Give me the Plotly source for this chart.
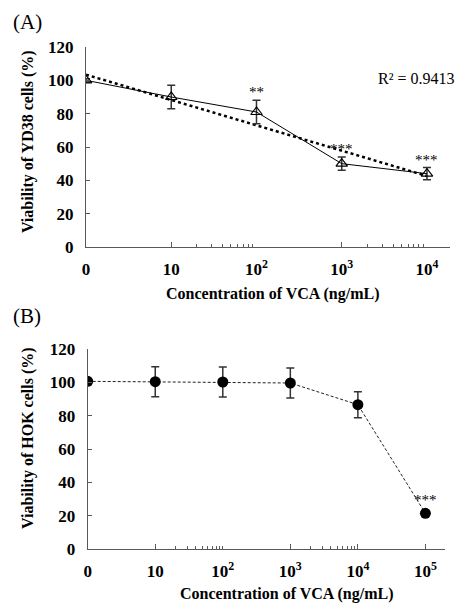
import numpy as np
import plotly.graph_objects as go

# ---------------- data ----------------
# Panel A (YD38 cells); "0" concentration is drawn at the 10^0 position
A_CONC_POS = [1, 10, 100, 1000, 10000]
A_VIAB = [100, 90, 81, 50, 44]
A_ERR = [1, 7, 7, 4, 3.7]
A_SIG = ["", "", "**", "***", "***"]
A_TICK_POS = [1, 10, 100, 1000, 10000]
A_TICK_TEXT = ["0", "10", "10<sup>2</sup>", "10<sup>3</sup>", "10<sup>4</sup>"]
A_MAJOR_TICKS = [10, 1000, 18600]
A_MINOR_TICKS = [20, 30, 40, 50, 60, 70, 80, 90,
                 2000, 3000, 4000, 5000, 6000, 7000, 8000, 9000]
A_R2_TEXT = "R² = 0.9413"

# Panel B (HOK cells)
B_CONC_POS = [1, 10, 100, 1000, 10000, 100000]
B_VIAB = [100.6, 100.4, 100.2, 99.6, 86.6, 21.4]
B_ERR = [1.5, 9, 9, 9, 7.8, 1.5]
B_SIG = ["", "", "", "", "", "***"]
B_TICK_POS = [1, 10, 100, 1000, 10000, 100000]
B_TICK_TEXT = ["0", "10", "10<sup>2</sup>", "10<sup>3</sup>", "10<sup>4</sup>", "10<sup>5</sup>"]
B_MAJOR_TICKS = [10, 1000, 10000, 100000, 195000]
B_MINOR_TICKS = [20, 30, 40, 50, 60, 70, 80, 90, 100,
                 2000, 3000, 4000, 5000, 6000, 7000, 8000, 9000]

Y_TICKS = [0, 20, 40, 60, 80, 100, 120]

A_YTITLE = "Viability of YD38 cells (%)"
B_YTITLE = "Viability of HOK cells (%)"
XTITLE = "Concentration of VCA (ng/mL)"

# ---------------- style ----------------
FONT = "Liberation Serif"
AXC = "#595959"
W, H = 456, 605

fig = go.Figure()

# Panel A: logarithmic trend line fitted from the data
lx = np.log10(np.array(A_CONC_POS, dtype=float))
slope, intercept = np.polyfit(lx, np.array(A_VIAB, dtype=float), 1)
fig.add_trace(go.Scatter(
    x=A_CONC_POS, y=list(intercept + slope * lx), mode="lines",
    line=dict(color="black", width=2.5, dash="dot"),
    xaxis="x", yaxis="y", showlegend=False, hoverinfo="skip"))

fig.add_trace(go.Scatter(
    x=A_CONC_POS, y=A_VIAB, mode="lines+markers",
    line=dict(color="black", width=1),
    marker=dict(symbol="triangle-up-open", size=10, color="black",
                line=dict(color="black", width=1.2)),
    error_y=dict(type="data", array=A_ERR, visible=True,
                 color="#333333", thickness=1.5, width=4),
    xaxis="x", yaxis="y", showlegend=False))

# Panel B
fig.add_trace(go.Scatter(
    x=B_CONC_POS, y=B_VIAB, mode="lines+markers",
    line=dict(color="#222222", width=1, dash="3px,2px"),
    marker=dict(symbol="circle", size=11, color="black"),
    error_y=dict(type="data", array=B_ERR, visible=True,
                 color="#333333", thickness=1.5, width=4),
    xaxis="x2", yaxis="y2", showlegend=False))

# empty traces binding the tick-only overlay axes
fig.add_trace(go.Scatter(x=[], y=[], xaxis="x3", yaxis="y", showlegend=False))
fig.add_trace(go.Scatter(x=[], y=[], xaxis="x4", yaxis="y2", showlegend=False))

# domains (paper fractions)
A_XD = [86 / W, 450 / W]
A_YD = [1 - 247 / H, 1 - 47 / H]
B_XD = [87.7 / W, 445 / W]
B_YD = [1 - 549 / H, 1 - 349 / H]
A_XR = [0, 4.27]
B_XR = [0, 5.29]

tickfont = dict(family=FONT, size=17, color="black", weight="bold")


def main_x(domain, rng, anchor, tv, tt):
    return dict(domain=domain, anchor=anchor, type="log", range=rng,
                tickmode="array", tickvals=tv, ticktext=tt, ticks="",
                showline=True, linecolor=AXC, linewidth=1, showgrid=False,
                zeroline=False, tickfont=tickfont, ticklabelstandoff=7,
                automargin=False)


def tick_x(over, anchor, rng, major, minor):
    return dict(overlaying=over, anchor=anchor, type="log", range=rng,
                tickmode="array", tickvals=major, ticks="inside", ticklen=5,
                tickcolor=AXC, tickwidth=1, showticklabels=False,
                showline=False, showgrid=False, zeroline=False,
                automargin=False,
                minor=dict(tickmode="array", tickvals=minor, ticks="inside",
                           ticklen=3, tickcolor=AXC, tickwidth=1, showgrid=False))


def main_y(domain, anchor):
    return dict(domain=domain, anchor=anchor, range=[0, 120],
                tickmode="array", tickvals=Y_TICKS, ticks="inside", ticklen=4,
                tickcolor=AXC, showline=True, linecolor=AXC, linewidth=1,
                showgrid=False, zeroline=False, tickfont=tickfont,
                ticklabelstandoff=8, automargin=False)


def dom_note(text, ax, x, y, size, bold=False, angle=0):
    f = dict(family=FONT, size=size, color="black")
    if bold:
        f["weight"] = "bold"
    return dict(x=x, y=y, xref=f"x{ax} domain", yref=f"y{ax} domain",
                text=text, showarrow=False, textangle=angle,
                xanchor="center", yanchor="middle", font=f)


annotations = []
for i, s in enumerate(A_SIG):
    if s:
        annotations.append(dict(x=np.log10(A_CONC_POS[i]), y=A_VIAB[i] + A_ERR[i],
                                xref="x", yref="y", text=s, showarrow=False,
                                yanchor="bottom", yshift=-2,
                                font=dict(family=FONT, size=15, color="black")))
for i, s in enumerate(B_SIG):
    if s:
        annotations.append(dict(x=np.log10(B_CONC_POS[i]), y=B_VIAB[i] + B_ERR[i],
                                xref="x2", yref="y2", text=s, showarrow=False,
                                yanchor="bottom", yshift=1,
                                font=dict(family=FONT, size=15, color="black")))

annotations += [
    dom_note(A_R2_TEXT, "", 0.907, 0.845, 16),
    dom_note("(A)", "", -0.162, 1.125, 21),
    dom_note(A_YTITLE, "", -0.159, 0.525, 16, bold=True, angle=-90),
    dom_note(XTITLE, "", 0.511, -0.235, 16, bold=True),
    dom_note("(B)", "2", -0.170, 1.165, 21),
    dom_note(B_YTITLE, "2", -0.167, 0.555, 16, bold=True, angle=-90),
    dom_note(XTITLE, "2", 0.555, -0.225, 16, bold=True),
]

fig.update_layout(
    template="none",
    width=W, height=H,
    margin=dict(l=0, r=0, t=0, b=0, autoexpand=False),
    paper_bgcolor="white", plot_bgcolor="white",
    showlegend=False,
    font=dict(family=FONT, color="black"),
    xaxis=main_x(A_XD, A_XR, "y", A_TICK_POS, A_TICK_TEXT),
    yaxis=main_y(A_YD, "x"),
    xaxis2=main_x(B_XD, B_XR, "y2", B_TICK_POS, B_TICK_TEXT),
    yaxis2=main_y(B_YD, "x2"),
    xaxis3=tick_x("x", "y", A_XR, A_MAJOR_TICKS, A_MINOR_TICKS),
    xaxis4=tick_x("x2", "y2", B_XR, B_MAJOR_TICKS, B_MINOR_TICKS),
    annotations=annotations,
)

fig.write_html("out.html",
               config={"displayModeBar": False},
               post_script="document.body.style.margin='0';document.body.style.overflow='hidden';")
